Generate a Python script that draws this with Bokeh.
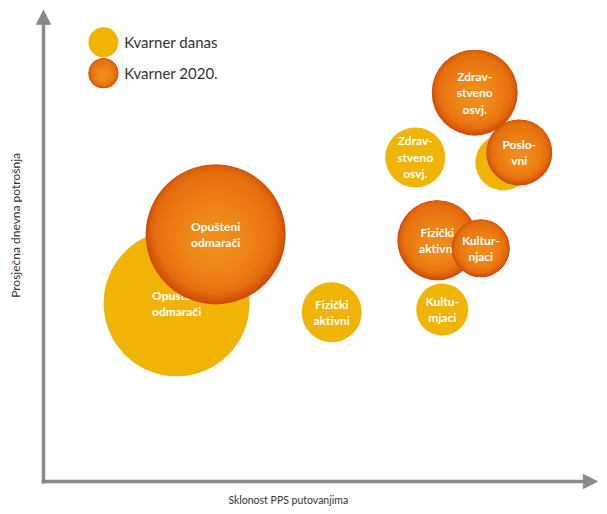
from bokeh.plotting import figure
from bokeh.models import Range1d, Arrow, NormalHead, Label
from bokeh.core.properties import value
from bokeh.embed import file_html
from bokeh.resources import INLINE
import math

# ---------------- data ----------------
series_names = ["Kvarner danas", "Kvarner 2020."]

danas_labels = ["Opušteni\nodmarači", "Fizički\naktivni", "Kultu-\nmjaci",
                "Zdrav-\nstveno\nosvj.", "Poslo-\nvni"]
danas_x = [2.42, 5.24, 7.25, 6.76, 8.36]
danas_y = [3.96, 3.76, 3.82, 7.20, 7.09]
danas_size = [14.6, 6.0, 5.2, 6.0, 5.6]

k2020_labels = ["Opušteni\nodmarači", "Zdrav-\nstveno\nosvj.", "Poslo-\nvni",
                "Fizički\naktivni", "Kultur-\nnjaci"]
k2020_x = [3.13, 7.84, 8.65, 7.16, 7.95]
k2020_y = [5.49, 8.64, 7.31, 5.36, 5.18]
k2020_size = [14.0, 8.6, 6.6, 8.0, 5.8]

x_title = "Sklonost PPS putovanjima"
y_title = "Prosječna dnevna potrošnja"

# ---------------- styling ----------------
W, H = 599, 506
X0 = -0.782
X1 = X0 + W / 55.0
Y0 = -0.556
Y1 = Y0 + H / 45.0
SY = H / (Y1 - Y0)
SIZE_SCALE = 10.0
FONT = "Lato"
YELLOW = "#EFB406"
GRAY = "#8a8a8a"


def hex2rgb(h):
    return [int(h[i:i + 2], 16) for i in (1, 3, 5)]


def lerp_color(c1, c2, t):
    a, b = hex2rgb(c1), hex2rgb(c2)
    return "#%02x%02x%02x" % tuple(int(round(a[i] + (b[i] - a[i]) * t)) for i in range(3))


# gradient stops: (fraction of diameter, vertical shift fraction, colour)
STOPS = [(1.00, 0.000, "#CD4D09"),
         (0.94, 0.018, "#DD610B"),
         (0.86, 0.012, "#E56F0E"),
         (0.70, -0.020, "#EA7A12"),
         (0.45, -0.045, "#EE8617"),
         (0.20, -0.050, "#F08C1A")]
ORANGE_LAYERS = []
for (f1, s1, c1), (f2, s2, c2) in zip(STOPS[:-1], STOPS[1:]):
    n = 4
    for k in range(n):
        t = k / n
        ORANGE_LAYERS.append((f1 + (f2 - f1) * t, s1 + (s2 - s1) * t, lerp_color(c1, c2, t)))
ORANGE_LAYERS.append(STOPS[-1])

p = figure(width=W, height=H, x_range=Range1d(X0, X1), y_range=Range1d(Y0, Y1),
           output_backend="svg", toolbar_location=None,
           x_axis_location=None, y_axis_location=None, min_border=0)
p.grid.visible = False
p.outline_line_color = None
p.background_fill_color = "white"
p.border_fill_color = "white"


def draw_bubble(x, y, d, kind):
    if kind == 0:
        p.scatter([x], [y], size=d, fill_color=YELLOW, line_color=None)
    else:
        for f, dy, c in ORANGE_LAYERS:
            p.scatter([x], [y + dy * d / SY], size=d * f, fill_color=c, line_color=None)


def draw_label(x, y, t):
    p.text([x], [y], text=[t], text_color="white", text_font=value(FONT),
           text_font_style="bold", text_font_size="12px", text_align="center",
           text_baseline="middle", text_line_height=1.1)


for xs, ys, ss, ls, kind in [(danas_x, danas_y, danas_size, danas_labels, 0),
                              (k2020_x, k2020_y, k2020_size, k2020_labels, 1)]:
    for x, y, s, t in zip(xs, ys, ss, ls):
        draw_bubble(x, y, s * SIZE_SCALE, kind)
        draw_label(x, y, t)

# axes drawn as arrows
p.add_layout(Arrow(end=NormalHead(size=14, fill_color=GRAY, line_color=GRAY),
                   x_start=0, y_start=-0.045, x_end=0, y_end=10.47,
                   line_color=GRAY, line_width=3.5))
p.add_layout(Arrow(end=NormalHead(size=14, fill_color=GRAY, line_color=GRAY),
                   x_start=-0.035, y_start=0, x_end=10.07, y_end=0,
                   line_color=GRAY, line_width=3.5))

# axis titles
p.add_layout(Label(x=4.45, y=-0.42, text=x_title, text_font=FONT, text_font_size="10.5px",
                   text_color="#333333", text_align="center", text_baseline="middle"))
p.add_layout(Label(x=-0.51, y=5.69, text=y_title, text_font=FONT, text_font_size="12px",
                   text_color="#333333", text_align="center", text_baseline="middle",
                   angle=math.pi / 2))

# legend
leg_x = 1.09
leg_y = [9.76, 9.07]
for i, name in enumerate(series_names):
    draw_bubble(leg_x, leg_y[i], 30, i)
    p.add_layout(Label(x=leg_x + 0.38, y=leg_y[i], text=name, text_font=FONT,
                       text_font_size="15px", text_color="#333333",
                       text_align="left", text_baseline="middle"))

open("out.html", "w").write(file_html(p, INLINE))
